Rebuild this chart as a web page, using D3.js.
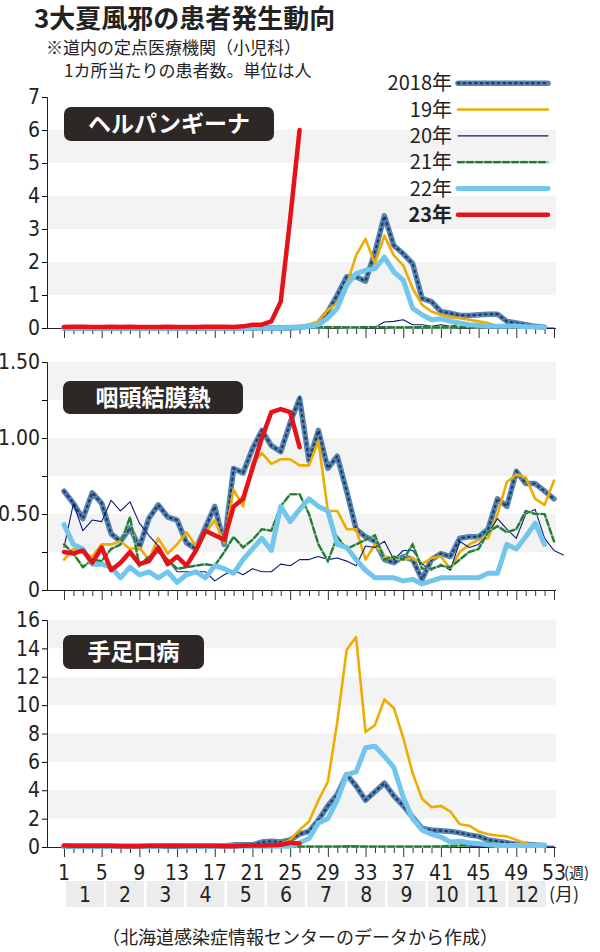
<!DOCTYPE html>
<html><head><meta charset="utf-8">
<script src="https://cdn.jsdelivr.net/npm/d3@7"></script>
<style>
body{margin:0;background:#fff;}
text{font-family:"Noto Sans CJK JP","Noto Sans",sans-serif;}
.num{font-family:"Liberation Sans Narrow","DejaVu Sans Condensed","Noto Sans",sans-serif;}
</style></head>
<body><div id="container"></div>
<script>
// series names / styles
const years = ["2018年","19年","20年","21年","22年","23年"];

// ヘルパンギーナ (weeks 1..)
const herp2018 = [0,0,0,0,0,0,0,0,0,0,0,0,0,0,0,0,0,0,0,0,0,0,0,0,0,0.02,0.05,0.15,0.5,1.0,1.55,1.55,1.42,2.3,3.4,2.5,2.25,1.95,0.9,0.8,0.5,0.45,0.38,0.38,0.4,0.42,0.42,0.2,0.15,0.1,0.05,0.02];
const herp2019 = [0,0,0,0,0,0,0,0,0,0,0,0,0,0,0,0,0,0,0,0,0,0,0,0,0.02,0.05,0.1,0.2,0.55,0.75,1.3,2.2,2.7,1.95,2.8,2.2,1.9,1.2,0.7,0.5,0.4,0.32,0.3,0.25,0.2,0.15,0.05,0.05,0.1,0.05,0.03,0.02];
const herp2020 = [0,0,0,0,0,0,0,0,0,0,0,0,0,0,0,0,0,0,0,0,0,0,0,0,0,0,0,0,0.02,0.02,0.03,0.02,0,0.02,0.18,0.2,0.25,0.1,0.1,0.05,0.1,0.05,0.12,0.12,0.08,0.05,0.03,0.02,0.02,0.01,0.01,0,0];
const herp2021 = [0,0,0,0,0,0,0,0,0,0,0,0,0,0,0,0,0,0,0,0,0,0,0,0,0,0,0.02,0.02,0.03,0.03,0.02,0.02,0.03,0.03,0.03,0.02,0.02,0.02,0.03,0.02,0.02,0.02,0.03,0.03,0.02,0.03,0.05,0.05,0.04,0.02,0.02,0.01];
const herp2022 = [0,0,0,0,0,0,0,0,0,0,0,0,0,0,0,0,0,0,0,0,0,0,0,0,0.02,0.03,0.05,0.1,0.3,0.6,1.3,1.65,1.75,1.8,2.15,1.7,1.45,0.6,0.4,0.25,0.28,0.2,0.15,0.1,0.08,0.05,0.05,0.05,0.05,0.04,0.03,0.02];
const herp2023 = [0.03,0.04,0.04,0.03,0.03,0.04,0.03,0.04,0.03,0.03,0.03,0.04,0.03,0.03,0.03,0.04,0.04,0.04,0.03,0.05,0.1,0.1,0.2,0.8,3.3,6.0];

// 咽頭結膜熱
const pcf2018 = [0.65,0.57,0.47,0.64,0.57,0.37,0.32,0.41,0.28,0.47,0.56,0.48,0.46,0.31,0.27,0.41,0.55,0.3,0.8,0.77,0.93,1.05,0.95,0.91,1.1,1.26,0.85,1.05,0.8,0.88,0.65,0.4,0.35,0.32,0.2,0.18,0.22,0.2,0.07,0.2,0.24,0.22,0.34,0.35,0.35,0.4,0.6,0.55,0.78,0.7,0.7,0.65,0.6];
const pcf2019 = [0.2,0.27,0.25,0.22,0.3,0.3,0.32,0.27,0.28,0.2,0.34,0.24,0.3,0.38,0.29,0.37,0.46,0.31,0.66,0.55,0.84,0.9,0.83,0.86,0.86,0.82,0.82,0.98,0.52,0.52,0.4,0.4,0.2,0.3,0.22,0.21,0.2,0.21,0.17,0.21,0.22,0.14,0.25,0.3,0.33,0.34,0.5,0.71,0.76,0.74,0.6,0.56,0.72];
const pcf2020 = [0.28,0.57,0.39,0.46,0.45,0.59,0.52,0.58,0.44,0.36,0.29,0.2,0.12,0.12,0.12,0.12,0.06,0.1,0.13,0.1,0.14,0.12,0.12,0.17,0.16,0.2,0.2,0.22,0.2,0.21,0.19,0.16,0.29,0.28,0.32,0.2,0.26,0.26,0.17,0.13,0.17,0.13,0.32,0.28,0.3,0.37,0.47,0.4,0.34,0.5,0.53,0.34,0.26,0.23];
const pcf2021 = [0.3,0.24,0.15,0.2,0.19,0.27,0.3,0.48,0.16,0.22,0.25,0.2,0.14,0.15,0.16,0.17,0.16,0.25,0.35,0.28,0.33,0.4,0.39,0.55,0.63,0.63,0.5,0.3,0.19,0.35,0.27,0.3,0.33,0.36,0.2,0.22,0.2,0.3,0.14,0.14,0.16,0.15,0.2,0.25,0.27,0.38,0.42,0.38,0.4,0.52,0.5,0.5,0.32];
const pcf2022 = [0.43,0.3,0.27,0.17,0.17,0.15,0.08,0.15,0.1,0.12,0.08,0.12,0.05,0.1,0.12,0.08,0.16,0.14,0.11,0.2,0.27,0.34,0.26,0.55,0.45,0.53,0.6,0.55,0.52,0.3,0.28,0.2,0.13,0.08,0.08,0.08,0.06,0.07,0.04,0.06,0.08,0.08,0.08,0.08,0.08,0.11,0.11,0.3,0.27,0.35,0.44,0.3];
const pcf2023 = [0.25,0.24,0.26,0.18,0.28,0.13,0.18,0.25,0.17,0.19,0.28,0.17,0.22,0.16,0.26,0.39,0.36,0.33,0.55,0.6,0.8,1.0,1.17,1.19,1.17,0.94];

// 手足口病
const hfm2018 = [0.05,0.05,0.05,0.05,0.05,0.05,0.05,0.05,0.05,0.05,0.05,0.05,0.05,0.05,0.05,0.05,0.05,0.08,0.15,0.15,0.15,0.35,0.4,0.35,0.5,0.9,1.1,1.9,2.9,3.7,5.1,4.3,3.3,3.9,4.5,3.6,2.9,2.1,1.3,1.2,1.15,1.1,1.0,0.85,0.75,0.5,0.4,0.3,0.2,0.2,0.15,0.1];
const hfm2019 = [0.1,0.1,0.1,0.1,0.1,0.1,0.1,0.1,0.1,0.1,0.1,0.1,0.1,0.1,0.1,0.1,0.1,0.1,0.1,0.1,0.1,0.1,0.15,0.2,0.5,1.2,1.8,3.3,4.6,8.8,13.9,14.8,8.1,8.6,10.4,9.8,7.7,5.2,3.4,2.8,2.9,2.5,1.6,1.5,1.1,0.9,0.8,0.75,0.5,0.25,0.15,0.1];
const hfm2020 = [0.05,0.05,0.05,0.05,0.05,0.05,0.05,0.05,0.05,0.05,0.05,0.05,0.05,0.05,0.05,0.05,0.05,0.05,0.05,0.05,0.05,0.05,0.05,0.05,0.05,0.05,0.05,0.05,0.05,0.05,0.1,0.08,0.05,0.05,0.05,0.05,0.05,0.05,0.05,0.05,0.05,0.05,0.05,0.05,0.05,0.05,0.05,0.05,0.05,0.05,0.05,0.05,0.05];
const hfm2021 = [0.02,0.02,0.02,0.02,0.02,0.02,0.02,0.02,0.02,0.02,0.02,0.02,0.02,0.02,0.02,0.02,0.02,0.02,0.02,0.02,0.02,0.02,0.02,0.02,0.02,0.02,0.02,0.02,0.02,0.02,0.02,0.02,0.02,0.02,0.02,0.02,0.02,0.02,0.02,0.02,0.05,0.08,0.1,0.15,0.2,0.25,0.2,0.15,0.1,0.08,0.05,0.05];
const hfm2022 = [0.05,0.05,0.05,0.05,0.05,0.05,0.05,0.05,0.05,0.05,0.05,0.1,0.1,0.05,0.05,0.05,0.05,0.05,0.05,0.05,0.05,0.05,0.05,0.05,0.05,0.3,0.6,1.7,2.0,3.3,5.1,5.3,7.0,7.1,6.4,5.6,3.5,2.0,1.2,0.9,0.7,0.35,0.4,0.3,0.25,0.15,0.1,0.1,0.1,0.1,0.1,0.1];
const hfm2023 = [0.1,0.08,0.08,0.08,0.08,0.08,0.06,0.06,0.06,0.08,0.08,0.08,0.08,0.08,0.08,0.08,0.08,0.06,0.06,0.08,0.1,0.1,0.12,0.15,0.3,0.25];

const weekTicks = [1,5,9,13,17,21,25,29,33,37,41,45,49,53];
const months = ["1","2","3","4","5","6","7","8","9","10","11","12"];

const W = 600, H = 952;
const svg = d3.select('#container').append('svg').attr('width', W).attr('height', H);

const x = d3.scaleLinear().domain([1, 53]).range([64, 554]);

// style per series
const styles = [
  {c:"#5785b3", w:5.5, oc:"#1d3a63", ow:2.2, od:"1.5,4.2"},
  {c:"#f0ab00", w:2.6},
  {c:"#0b1a78", w:1.1},
  {c:"#9ed6a2", w:2.6, oc:"#237a36", ow:2.2, od:"6,3"},
  {c:"#72c6ee", w:5},
  {c:"#e5121a", w:4.5}
];

const panels = [
  {name:"ヘルパンギーナ", top:97, bot:328, max:7, ticks:d3.range(0,8), labels:d3.range(0,8), fmt:d=>d, bands:[[1,2],[3,4],[5,6]], box:[64,107,210,34], series:[herp2018,herp2019,herp2020,herp2021,herp2022,herp2023]},
  {name:"咽頭結膜熱", top:362, bot:590, max:1.5, ticks:[0,0.25,0.5,0.75,1,1.25,1.5], labels:[0,0.5,1,1.5], fmt:d=>d===0?"0":d.toFixed(2), bands:[[0.25,0.5],[0.75,1],[1.25,1.5]], box:[63,381,180,33], series:[pcf2018,pcf2019,pcf2020,pcf2021,pcf2022,pcf2023]},
  {name:"手足口病", top:620, bot:847, max:16, ticks:d3.range(0,17,2), labels:d3.range(0,17,2), fmt:d=>d, bands:[[2,4],[6,8],[10,12],[14,16]], box:[63,635,141,34], series:[hfm2018,hfm2019,hfm2020,hfm2021,hfm2022,hfm2023]}
];

panels.forEach((p, pi) => {
  const y = d3.scaleLinear().domain([0, p.max]).range([p.bot, p.top]);
  const g = svg.append('g');
  // bands
  g.selectAll('rect.band').data(p.bands).enter().append('rect')
    .attr('x', 48).attr('width', 508)
    .attr('y', d => y(d[1])).attr('height', d => y(d[0]) - y(d[1]))
    .attr('fill', '#f3f3f3');
  // y axis
  const ya = g.append('g').attr('transform', 'translate(47,0)')
    .call(d3.axisLeft(y).tickValues(p.ticks).tickSize(5).tickFormat(d => p.labels.includes(d) ? p.fmt(d) : ""));
  ya.select('.domain').attr('stroke', '#222');
  ya.selectAll('text').attr('class', 'num').attr('font-size', 21).attr('fill', '#222').attr('dx', '1');
  // x axis
  const xa = g.append('g').attr('transform', `translate(0,${p.bot})`)
    .call(d3.axisBottom(x).tickValues(d3.range(1, 54)).tickSize(0).tickFormat(""));
  xa.select('.domain').attr('d', `M46,0.5H556`).attr('stroke', '#222');
  xa.selectAll('.tick line').attr('y2', d => weekTicks.includes(d) ? 10 : 6).attr('stroke', '#333');
  if (pi === 2) {
    g.selectAll('text.wk').data(weekTicks).enter().append('text')
      .attr('class', 'num').attr('x', d => x(d)).attr('y', p.bot + 33)
      .attr('text-anchor', 'middle').attr('font-size', 21).attr('fill', '#222').text(d => d);
    g.append('text').attr('x', x(53) + 10).attr('y', p.bot + 31).attr('font-size', 15).attr('fill', '#222').text('(週)');
  }
  // lines
  const line = d3.line().x((d, i) => x(i + 1)).y(d => y(d));
  p.series.forEach((s, si) => {
    const st = styles[si];
    g.append('path').datum(s).attr('d', line).attr('fill', 'none')
      .attr('stroke', st.c).attr('stroke-width', st.w).attr('stroke-linejoin', 'round').attr('stroke-linecap', 'round');
    if (st.oc) g.append('path').datum(s).attr('d', line).attr('fill', 'none')
      .attr('stroke', st.oc).attr('stroke-width', st.ow).attr('stroke-dasharray', st.od).attr('stroke-linecap', 'round');
  });
  // label box
  const [bx, by, bw, bh] = p.box;
  g.append('rect').attr('x', bx).attr('y', by).attr('width', bw).attr('height', bh).attr('rx', 7).attr('fill', '#2d2826');
  g.append('text').attr('x', bx + bw / 2).attr('y', by + bh / 2 + 8).attr('text-anchor', 'middle')
    .attr('font-size', 23).attr('font-weight', 'bold').attr('fill', '#fff').text(p.name);
});

// month boxes
const mx = d3.scaleBand().domain(months).range([66, 546]).paddingInner(0.06);
svg.selectAll('rect.mon').data(months).enter().append('rect')
  .attr('x', d => mx(d)).attr('width', mx.bandwidth()).attr('y', 881).attr('height', 26).attr('fill', '#ececec');
svg.selectAll('text.mon').data(months).enter().append('text')
  .attr('class', 'num').attr('x', d => mx(d) + mx.bandwidth() / 2).attr('y', 902)
  .attr('text-anchor', 'middle').attr('font-size', 21).attr('fill', '#222').text(d => d);
svg.append('text').attr('x', 549).attr('y', 901).attr('font-size', 18).attr('fill', '#222').text('(月)');

// titles
svg.append('text').attr('x', 34).attr('y', 28).attr('font-size', 26).attr('font-weight', 'bold').attr('fill', '#222').text('3大夏風邪の患者発生動向');
svg.append('text').attr('x', 46).attr('y', 54).attr('font-size', 17).attr('fill', '#222').text('※道内の定点医療機関（小児科）');
svg.append('text').attr('x', 64).attr('y', 77).attr('font-size', 17).attr('fill', '#222').text('1カ所当たりの患者数。単位は人');
svg.append('text').attr('x', 300).attr('y', 944).attr('text-anchor', 'middle').attr('font-size', 18).attr('fill', '#222').text('（北海道感染症情報センターのデータから作成）');

// legend
const ly = d3.scaleBand().domain(years).range([70, 228]);
const lg = svg.append('g');
years.forEach((yr, i) => {
  const st = styles[i], yy = ly(yr) + ly.bandwidth() / 2;
  lg.append('text').attr('x', 452).attr('y', yy + 7).attr('text-anchor', 'end')
    .attr('font-size', 20).attr('font-weight', i === 5 ? 'bold' : 'normal').attr('fill', '#222').text(yr);
  lg.append('line').attr('x1', 458).attr('x2', 548).attr('y1', yy).attr('y2', yy)
    .attr('stroke', st.c).attr('stroke-width', st.w).attr('stroke-linecap', 'round');
  if (st.oc) lg.append('line').attr('x1', 458).attr('x2', 548).attr('y1', yy).attr('y2', yy)
    .attr('stroke', st.oc).attr('stroke-width', st.ow).attr('stroke-dasharray', st.od).attr('stroke-linecap', 'round');
});
</script></body></html>
